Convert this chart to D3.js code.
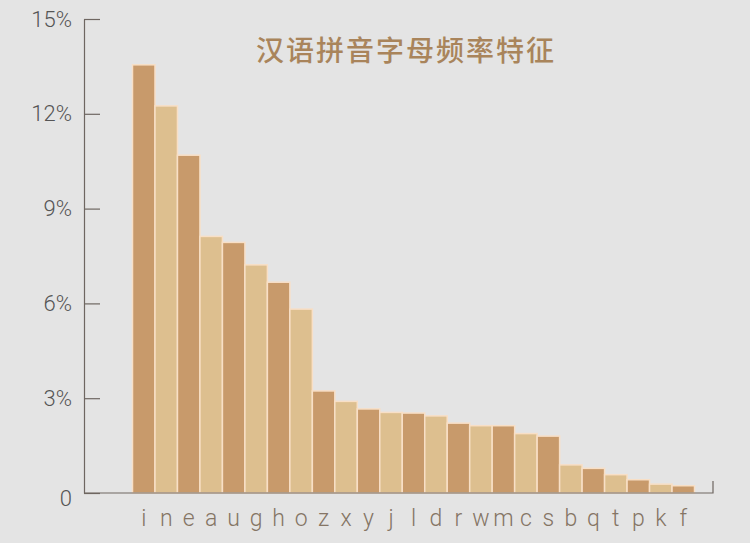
<!DOCTYPE html>
<html>
<head>
<meta charset="utf-8">
<script src="https://cdn.jsdelivr.net/npm/d3@7"></script>
<style>
  body { margin: 0; background: #e4e4e4; }
  svg { display: block; }
</style>
</head>
<body>
<div id="container"></div>
<script>
// pinyin letters, sorted by frequency (%)
const letters = ["i", "n", "e", "a", "u", "g", "h", "o", "z", "x", "y", "j", "l",
  "d", "r", "w", "m", "c", "s", "b", "q", "t", "p", "k", "f"];
const freq = [13.55, 12.25, 10.69, 8.12, 7.93, 7.22, 6.67, 5.82, 3.23, 2.90, 2.66,
  2.55, 2.53, 2.44, 2.21, 2.13, 2.13, 1.88, 1.80, 0.89, 0.78, 0.58, 0.42, 0.28, 0.23];
const yTicks = [0, 3, 6, 9, 12, 15];
const title = "汉语拼音字母频率特征";

const width = 750;
const height = 543;
const axisLeftX = 84;
const axisRightX = 713;
const baseY = 493;
const topY = 19;

const darkColor = "#c89a6b";
const lightColor = "#ddbf8f";

const svg = d3
  .select("#container")
  .append("svg")
  .attr("width", width)
  .attr("height", height);

svg.append("rect")
  .attr("width", width)
  .attr("height", height)
  .attr("fill", "#e4e4e4");

// skale
const x = d3
  .scaleBand()
  .domain(letters)
  .range([132.5, 694.5])
  .padding(0);

const y = d3
  .scaleLinear()
  .domain([0, 15])
  .range([baseY, topY]);

// stupci
svg
  .append("g")
  .selectAll("rect")
  .data(letters)
  .enter()
  .append("rect")
  .attr("x", (d) => x(d))
  .attr("y", (d, i) => y(freq[i]))
  .attr("width", x.bandwidth())
  .attr("height", (d, i) => baseY - y(freq[i]))
  .attr("fill", (d, i) => (i % 2 === 0 ? darkColor : lightColor))
  .attr("stroke", "#f8dfc6")
  .attr("stroke-width", 1.5);

// y os
const yAxis = d3
  .axisLeft(y)
  .tickValues(yTicks)
  .tickSizeInner(-16)
  .tickSizeOuter(0)
  .tickPadding(12)
  .tickFormat((d) => (d === 0 ? "0" : d + "%"));

const yg = svg
  .append("g")
  .attr("transform", `translate(${axisLeftX},0)`)
  .call(yAxis);

yg.selectAll("path, line").attr("stroke", "#6e6661").attr("stroke-width", 1.2);
yg.selectAll("text")
  .attr("fill", "#555")
  .style("font-family", "Roboto, 'Open Sans', sans-serif")
  .style("font-weight", 300)
  .style("font-size", "22px");
yg.select(".tick:first-of-type text").attr("dy", "0.55em");

// x os, sa zavrsnom crticom
svg
  .append("path")
  .attr("d", `M${axisLeftX},${baseY}H${axisRightX}V${baseY - 12}`)
  .attr("fill", "none")
  .attr("stroke", "#6e6661")
  .attr("stroke-width", 1.2);

const xAxis = d3.axisBottom(x).tickSize(0).tickPadding(17);

const xg = svg
  .append("g")
  .attr("transform", `translate(0,${baseY})`)
  .call(xAxis);

xg.select(".domain").remove();
xg.selectAll("text")
  .attr("fill", "#857565")
  .style("font-family", "Roboto, 'Open Sans', sans-serif")
  .style("font-weight", 300)
  .style("font-size", "23px");

// naslov
svg
  .append("text")
  .attr("x", 406)
  .attr("y", 51)
  .attr("dy", "0.35em")
  .attr("text-anchor", "middle")
  .attr("fill", "#a9845b")
  .style("font-family", "'Noto Sans CJK SC', sans-serif")
  .style("font-weight", 500)
  .style("font-size", "28px")
  .style("letter-spacing", "2px")
  .text(title);
</script>
</body>
</html>
